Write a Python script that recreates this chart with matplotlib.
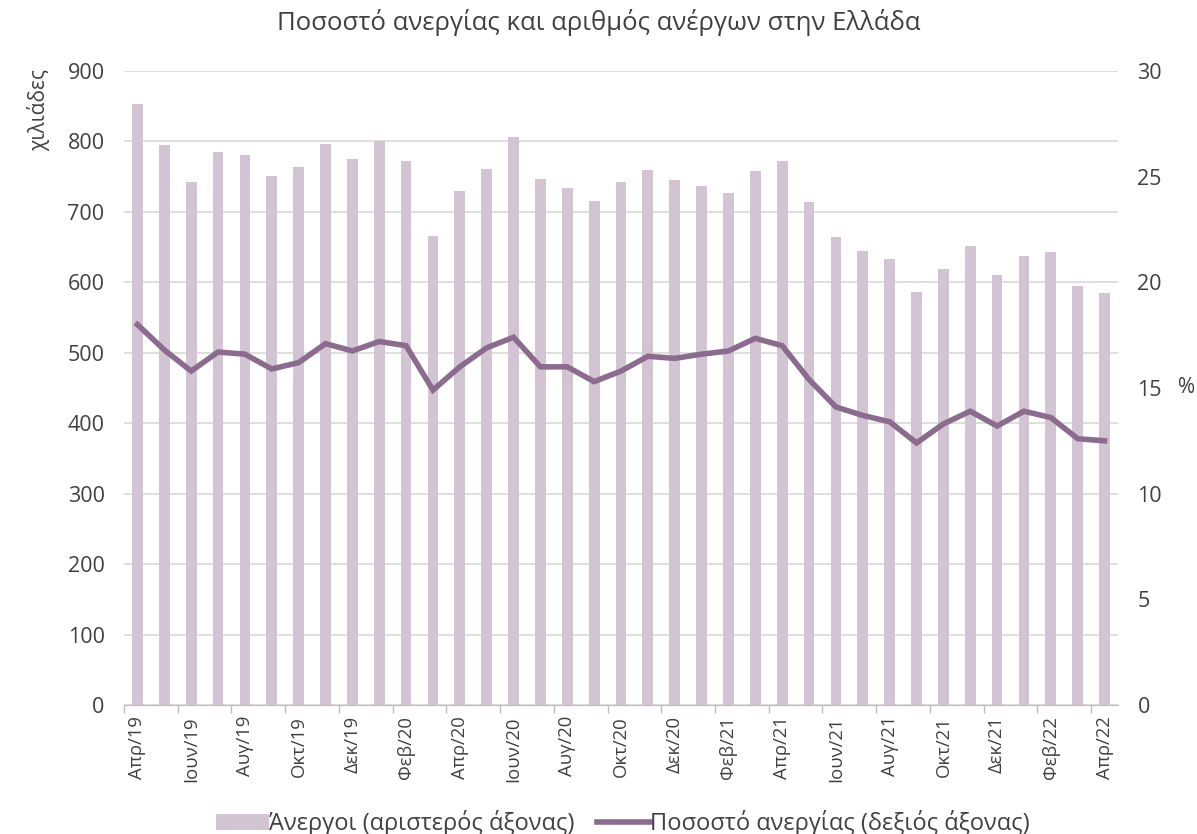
import numpy as np
import matplotlib.pyplot as plt

plt.rcParams['font.family'] = ['Open Sans', 'DejaVu Sans']

months = ['Απρ/19', 'Μαϊ/19', 'Ιουν/19', 'Ιουλ/19', 'Αυγ/19', 'Σεπ/19', 'Οκτ/19', 'Νοε/19', 'Δεκ/19',
          'Ιαν/20', 'Φεβ/20', 'Μαρ/20', 'Απρ/20', 'Μαϊ/20', 'Ιουν/20', 'Ιουλ/20', 'Αυγ/20', 'Σεπ/20',
          'Οκτ/20', 'Νοε/20', 'Δεκ/20', 'Ιαν/21', 'Φεβ/21', 'Μαρ/21', 'Απρ/21', 'Μαϊ/21', 'Ιουν/21',
          'Ιουλ/21', 'Αυγ/21', 'Σεπ/21', 'Οκτ/21', 'Νοε/21', 'Δεκ/21', 'Ιαν/22', 'Φεβ/22', 'Μαρ/22',
          'Απρ/22']

unemployed = [853, 795, 743, 785, 781, 751, 764, 797, 775, 800, 772, 666, 730, 761, 806, 747,
              734, 716, 743, 760, 745, 737, 727, 758, 772, 714, 664, 644, 633, 586, 619, 652,
              610, 637, 643, 595, 585]

rate = [18.0, 16.8, 15.8, 16.7, 16.6, 15.9, 16.2, 17.1, 16.75, 17.2, 17.0, 14.9, 16.0, 16.9,
        17.4, 16.0, 16.0, 15.3, 15.8, 16.5, 16.4, 16.6, 16.75, 17.35, 17.0, 15.4, 14.1, 13.7,
        13.4, 12.4, 13.3, 13.9, 13.2, 13.9, 13.6, 12.6, 12.5]

bar_color = '#D3C4D3'
line_color = '#8B6B8E'
text_color = '#404040'

fig = plt.figure(figsize=(11.97, 8.34), dpi=100)
ax = fig.add_axes([0.1036, 0.1547, 0.8304, 0.7602])
ax2 = ax.twinx()

x = np.arange(len(months))
b = ax.bar(x, unemployed, width=0.4, color=bar_color, zorder=2, label='Άνεργοι (αριστερός άξονας)')
l, = ax2.plot(x, rate, color=line_color, lw=4, solid_joinstyle='miter',
              label='Ποσοστό ανεργίας (δεξιός άξονας)')

ax.set_xlim(-0.5, len(months) - 0.5)
ax.set_ylim(0, 900)
ax.set_yticks(range(0, 901, 100))
ax2.set_ylim(0, 30)
ax2.set_yticks(range(0, 31, 5))
ax.grid(axis='y', color='#D9D9D9', lw=1.2, zorder=0)

ax.set_xticks(x[::2])
ax.set_xticklabels(months[::2], rotation=90)
ax.set_xticks(np.arange(-0.5, len(months), 2), minor=True)
ax.tick_params(axis='x', which='major', length=0, pad=8, labelsize=13.3, labelcolor=text_color)
ax.tick_params(axis='x', which='minor', length=6, color='#BFBFBF', width=1)
ax.tick_params(axis='y', length=0, pad=14, labelsize=15.5, labelcolor=text_color)
ax2.tick_params(axis='y', length=0, pad=14, labelsize=15.5, labelcolor=text_color)
for a in (ax, ax2):
    for s in ['top', 'left', 'right']:
        a.spines[s].set_visible(False)
    a.spines['bottom'].set_color('#BFBFBF')

fig.text(0.032, 0.868, 'χιλιάδες', rotation=90, ha='center', va='center', fontsize=15, color=text_color)
fig.text(0.991, 0.535, '%', ha='center', va='center', fontsize=15, color=text_color)
fig.text(0.5, 0.973, 'Ποσοστό ανεργίας και αριθμός ανέργων στην Ελλάδα', ha='center', va='center',
         fontsize=18.5, color=text_color)

fig.legend(handles=[b, l], loc='center', bbox_to_anchor=(0.52, 0.013), ncol=2, frameon=False,
           fontsize=17, handlelength=2.25, handletextpad=0.0, columnspacing=0.95,
           labelcolor=text_color)

fig.savefig('out.png', dpi=100)
